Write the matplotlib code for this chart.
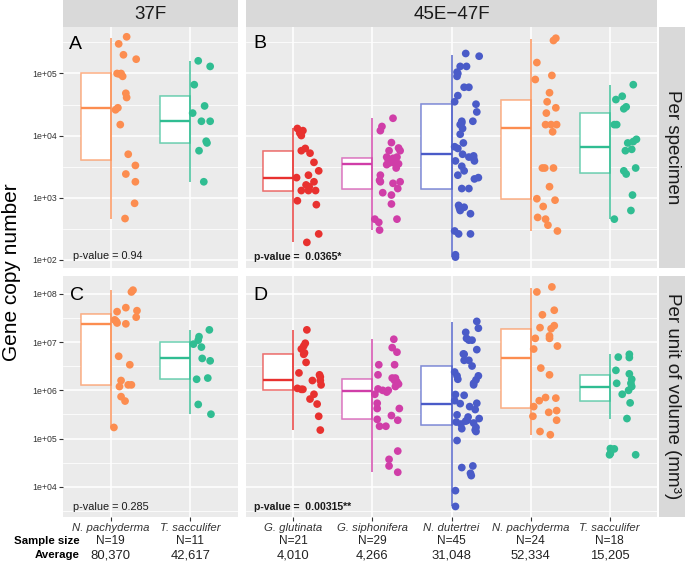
import matplotlib
matplotlib.use('Agg')
import matplotlib.pyplot as plt
import matplotlib.transforms as mtrans
from matplotlib.ticker import FixedLocator, NullFormatter
import matplotlib.colors as mcolors
import numpy as np

plt.rcParams['font.family'] = ['Liberation Sans', 'DejaVu Sans']

# ---------------- data ----------------
species_37F = ["N. pachyderma", "T. sacculifer"]
species_45E = ["G. glutinata", "G. siphonifera", "N. dutertrei", "N. pachyderma", "T. sacculifer"]
n_37F = ["N=19", "N=11"]
n_45E = ["N=21", "N=29", "N=45", "N=24", "N=18"]
avg_37F = ["80,370", "42,617"]
avg_45E = ["4,010", "4,266", "31,048", "52,334", "15,205"]
p_A, p_B, p_C, p_D = "p-value = 0.94", "p-value =  0.0365*", "p-value = 0.285", "p-value =  0.00315**"

col_gglut = '#E8312F'
col_gsiph = '#D03EA8'
col_ndut = '#4A5BC8'
col_npach = '#FC8D50'
col_tsacc = '#30BD92'
colors_37F = [col_npach, col_tsacc]
colors_45E = [col_gglut, col_gsiph, col_ndut, col_npach, col_tsacc]

# Panel A: 37F, per specimen
A_npach_vals = [3.9e5, 3.0e5, 2.0e5, 1.7e5, 1.0e5, 9.8e4, 9.0e4, 4.8e4, 4.1e4, 2.8e4, 2.6e4, 1.5e4,
                5.0e3, 3.3e3, 2.4e3, 1.8e3, 8.1e2, 4.6e2, 1.0e5]
A_npach_jit = [0.20, 0.10, 0.16, 0.32, 0.08, 0.11, 0.15, 0.19, 0.20, 0.09, 0.06, 0.12,
               0.22, 0.31, 0.19, 0.31, 0.30, 0.18, 0.13]
A_tsacc_vals = [1.6e5, 1.3e5, 6.6e4, 3.0e4, 2.3e4, 1.7e4, 1.7e4, 8.1e3, 7.6e3, 5.7e3, 1.8e3]
A_tsacc_jit = [0.10, 0.25, 0.05, 0.18, 0.03, 0.14, 0.25, 0.20, 0.21, 0.11, 0.17]
A_q1 = [4.1e3, 7.7e3]
A_med = [2.8e4, 1.7e4]
A_q3 = [1.0e5, 4.4e4]
A_lo = [4.6e2, 1.8e3]
A_hi = [3.8e5, 1.6e5]

# Panel B: 45E-47F, per specimen
B_gglut_vals = [1.3e4, 1.2e4, 1.0e4, 6.2e3, 5.7e3, 5.2e3, 3.7e3, 2.7e3, 2.1e3, 2.3e3, 1.8e3, 1.6e3,
                1.3e3, 1.3e3, 1.3e3, 8.9e2, 7.7e2, 2.6e2, 1.9e2, 1.5e3, 1.1e4]
B_gglut_jit = [0.05, 0.12, 0.10, 0.15, 0.10, 0.21, 0.26, 0.32, 0.04, 0.19, 0.26, 0.16,
               0.10, 0.19, 0.28, 0.05, 0.29, 0.32, 0.17, 0.20, 0.08]
B_gsiph_vals = [1.9e4, 1.4e4, 1.2e4, 7.7e3, 6.3e3, 5.7e3, 5.7e3, 4.5e3, 4.3e3, 4.5e3, 3.6e3, 3.6e3,
                3.5e3, 3.4e3, 2.3e3, 1.9e3, 1.8e3, 1.7e3, 1.8e3, 1.4e3, 1.2e3, 1.1e3, 7.9e2, 4.5e2,
                4.5e2, 4.0e2, 3.0e2, 4.0e3, 3.0e3]
B_gsiph_jit = [0.26, 0.12, 0.10, 0.24, 0.33, 0.21, 0.35, 0.18, 0.26, 0.31, 0.21, 0.28,
               0.33, 0.18, 0.10, 0.09, 0.10, 0.26, 0.35, 0.32, 0.13, 0.24, 0.24, 0.31,
               0.03, 0.08, 0.09, 0.20, 0.30]
B_ndut_vals = [2.1e5, 1.9e5, 1.3e5, 1.3e5, 1.05e5, 9.0e4, 6.0e4, 6.0e4, 4.4e4, 3.5e4, 3.2e4, 2.4e4,
               1.7e4, 1.7e4, 1.5e4, 1.3e4, 1.05e4, 7.6e3, 6.6e3, 6.2e3, 5.0e3, 4.5e3, 4.7e3, 3.9e3,
               3.9e3, 3.2e3, 2.7e3, 2.3e3, 2.0e3, 2.1e3, 1.4e3, 1.4e3, 7.5e2, 7.0e2, 6.2e2, 5.5e2,
               2.9e2, 2.6e2, 2.6e2, 1.2e2, 1.1e2, 1.6e4, 4.3e3, 6.8e2, 1.0e5]
B_ndut_jit = [0.18, 0.35, 0.11, 0.19, 0.07, 0.07, 0.16, 0.22, 0.08, 0.04, 0.31, 0.32,
              0.13, 0.27, 0.11, 0.14, 0.11, 0.15, 0.04, 0.08, 0.14, 0.22, 0.28, 0.29,
              0.05, 0.13, 0.16, 0.08, 0.29, 0.34, 0.13, 0.22, 0.09, 0.16, 0.11, 0.24,
              0.04, 0.09, 0.24, 0.05, 0.05, 0.13, 0.28, 0.10, 0.08]
B_npach_vals = [3.7e5, 3.4e5, 1.5e5, 8.0e4, 9.3e4, 4.9e4, 3.5e4, 2.8e4, 2.3e4, 1.5e4, 1.5e4, 1.5e4,
                1.15e4, 3.0e3, 3.0e3, 3.0e3, 1.5e3, 9.6e2, 9.1e2, 7.2e2, 4.8e2, 4.5e2, 3.6e2, 2.9e2]
B_npach_jit = [0.32, 0.29, 0.08, 0.06, 0.27, 0.24, 0.21, 0.32, 0.20, 0.19, 0.26, 0.33,
               0.28, 0.15, 0.18, 0.29, 0.24, 0.08, 0.31, 0.16, 0.09, 0.19, 0.22, 0.34]
B_tsacc_vals = [6.6e4, 4.3e4, 3.8e4, 2.9e4, 2.7e4, 1.5e4, 1.5e4, 8.7e3, 7.6e3, 5.7e3, 6.0e3, 3.0e3,
                2.7e3, 2.4e3, 1.1e3, 6.2e2, 4.5e2, 8.0e3]
B_tsacc_jit = [0.30, 0.16, 0.08, 0.21, 0.18, 0.06, 0.09, 0.34, 0.23, 0.20, 0.28, 0.33,
               0.18, 0.21, 0.29, 0.27, 0.06, 0.30]
B_q1 = [1.3e3, 1.4e3, 1.4e3, 9.5e2, 2.5e3]
B_med = [2.1e3, 3.5e3, 5.0e3, 1.3e4, 6.6e3]
B_q3 = [5.7e3, 4.4e3, 3.2e4, 3.8e4, 2.3e4]
B_lo = [1.9e2, 3.0e2, 1.1e2, 2.9e2, 4.5e2]
B_hi = [1.3e4, 1.9e4, 2.0e5, 3.6e5, 6.5e4]

# Panel C: 37F, per unit of volume
C_npach_vals = [1.2e8, 1.1e8, 5.2e7, 4.3e7, 4.5e7, 3.3e7, 2.9e7, 2.5e7, 2.4e7, 5.1e6, 3.4e6, 1.6e6,
                1.2e6, 1.3e6, 1.3e6, 7.4e5, 6.0e5, 1.7e5, 2.7e7]
C_npach_jit = [0.28, 0.26, 0.19, 0.08, 0.33, 0.32, 0.05, 0.08, 0.19, 0.10, 0.24, 0.13,
               0.11, 0.22, 0.26, 0.13, 0.18, 0.04, 0.07]
C_tsacc_vals = [1.8e7, 1.3e7, 1.1e7, 9.1e6, 7.9e6, 4.6e6, 4.1e6, 1.8e6, 1.7e6, 5.1e5, 3.2e5]
C_tsacc_jit = [0.24, 0.11, 0.10, 0.04, 0.14, 0.15, 0.25, 0.22, 0.08, 0.10, 0.26]
C_q1 = [1.3e6, 1.7e6]
C_med = [2.4e7, 4.7e6]
C_q3 = [3.8e7, 1.0e7]
C_lo = [1.7e5, 3.2e5]
C_hi = [1.2e8, 1.8e7]

# Panel D: 45E-47F, per unit of volume
D_gglut_vals = [1.8e7, 9.5e6, 8.3e6, 7.2e6, 5.6e6, 3.8e6, 2.3e6, 2.1e6, 1.6e6, 1.6e6, 1.1e6, 1.05e6,
                1.05e6, 8.3e5, 6.6e5, 5.2e5, 2.9e5, 1.5e5, 1.9e6, 1.3e6, 6.0e6]
D_gglut_jit = [0.17, 0.15, 0.13, 0.10, 0.13, 0.16, 0.07, 0.33, 0.34, 0.24, 0.05, 0.10,
               0.12, 0.26, 0.21, 0.30, 0.32, 0.34, 0.34, 0.35, 0.14]
D_gsiph_vals = [1.15e7, 7.7e6, 6.2e6, 3.4e6, 3.4e6, 2.1e6, 1.8e6, 1.8e6, 1.5e6, 1.2e6, 1.35e6, 1.07e6,
                1.0e6, 9.2e5, 8.3e5, 5.4e5, 4.2e5, 4.2e5, 3.0e5, 2.5e5, 2.4e5, 1.8e5, 1.8e5, 5.5e4,
                3.7e4, 2.7e4, 2.0e4, 1.0e6, 1.6e6]
D_gsiph_jit = [0.27, 0.25, 0.31, 0.08, 0.28, 0.07, 0.25, 0.29, 0.31, 0.29, 0.33, 0.07,
               0.13, 0.18, 0.03, 0.06, 0.06, 0.34, 0.24, 0.06, 0.32, 0.09, 0.17, 0.32,
               0.21, 0.21, 0.32, 0.20, 0.28]
D_ndut_vals = [2.7e7, 1.95e7, 1.6e7, 1.2e7, 1.1e7, 1.1e7, 7.0e6, 5.7e6, 4.2e6, 4.2e6, 3.2e6, 2.0e6,
               1.7e6, 2.0e6, 1.65e6, 1.4e6, 8.2e5, 7.9e5, 6.1e5, 5.3e5, 5.4e5, 4.6e5, 3.1e5, 2.8e5,
               2.6e5, 2.2e5, 2.0e5, 2.4e5, 2.1e5, 1.7e5, 1.4e5, 1.6e5, 9.1e4, 2.5e4, 2.7e4, 1.9e4,
               1.7e4, 8.3e3, 3.9e3, 1.3e6, 4.0e5, 2.3e5, 1.5e5, 2.4e6, 5.6e6]
D_ndut_jit = [0.32, 0.34, 0.18, 0.19, 0.26, 0.22, 0.32, 0.15, 0.16, 0.22, 0.26, 0.07,
              0.08, 0.34, 0.31, 0.28, 0.05, 0.16, 0.04, 0.11, 0.32, 0.23, 0.07, 0.21,
              0.35, 0.06, 0.12, 0.20, 0.28, 0.31, 0.31, 0.13, 0.07, 0.13, 0.27, 0.24,
              0.25, 0.05, 0.05, 0.28, 0.30, 0.18, 0.30, 0.04, 0.16]
D_npach_vals = [1.1e8, 1.4e8, 4.6e7, 3.7e7, 2.2e7, 1.9e7, 2.0e7, 1.35e7, 1.2e7, 1.2e7, 8.3e6, 7.2e6,
                2.9e6, 2.1e6, 7.1e5, 6.1e5, 6.9e5, 4.6e5, 3.5e5, 3.8e5, 2.9e5, 2.4e5, 1.4e5, 1.2e5]
D_npach_jit = [0.08, 0.27, 0.30, 0.15, 0.30, 0.26, 0.12, 0.24, 0.24, 0.06, 0.34, 0.04,
               0.13, 0.24, 0.19, 0.11, 0.32, 0.04, 0.23, 0.33, 0.03, 0.33, 0.12, 0.25]
D_tsacc_vals = [5.6e6, 4.8e6, 4.9e6, 2.6e6, 2.2e6, 1.7e6, 1.4e6, 1.4e6, 1.2e6, 1.0e6, 8.3e5, 5.5e5,
                2.6e5, 6.2e4, 6.1e4, 4.6e4, 4.9e4, 4.6e4]
D_tsacc_jit = [0.25, 0.25, 0.11, 0.08, 0.25, 0.28, 0.09, 0.27, 0.28, 0.24, 0.16, 0.26,
               0.22, 0.01, 0.06, 0.00, 0.01, 0.33]
D_q1 = [1.0e6, 2.6e5, 1.9e5, 4.4e5, 6.1e5]
D_med = [1.65e6, 9.5e5, 5.3e5, 4.6e6, 1.2e6]
D_q3 = [5.6e6, 1.7e6, 3.2e6, 1.9e7, 2.1e6]
D_lo = [1.5e5, 2.0e4, 3.9e3, 1.2e5, 2.6e5]
D_hi = [1.8e7, 1.15e7, 2.6e7, 1.35e8, 5.6e6]

ylim_top = (10 ** 1.866, 10 ** 5.749)
ylim_bot = (10 ** 3.372, 10 ** 8.373)
ticks_top = [2, 3, 4, 5]
ticks_bot = [4, 5, 6, 7, 8]

# ---------------- layout ----------------
W, H = 685, 563
fig = plt.figure(figsize=(W / 100, H / 100), dpi=100)


def px_axes(x0, y0, x1, y1):
    return fig.add_axes([x0 / W, 1 - y1 / H, (x1 - x0) / W, (y1 - y0) / H])


def fy(y):
    return 1 - y / H


LX0, LX1 = 63, 238
RX0, RX1 = 246, 657
TY0, TY1 = 27, 268
BY0, BY1 = 276, 517


def draw_panel(ax, vals, jits, colors, q1, med, q3, lo, hi, ylim, decades, left_labels, bottom_ticks):
    n = len(vals)
    pos = np.arange(1, n + 1)
    ax.set_facecolor('#EBEBEB')
    ax.set_yscale('log')
    ax.set_xlim(0.4, n + 0.6)
    ax.set_ylim(*ylim)
    ax.yaxis.set_major_locator(FixedLocator([10.0 ** k for k in decades]))
    minors = [10.0 ** (k + 0.5) for k in range(decades[0] - 1, decades[-1] + 1)]
    ax.yaxis.set_minor_locator(FixedLocator(minors))
    ax.yaxis.set_minor_formatter(NullFormatter())
    ax.set_yticklabels([f"1e+{k:02d}" for k in decades])
    ax.set_xticks(pos)
    ax.set_xticklabels([])
    ax.grid(True, which='major', color='white', linewidth=1.1)
    ax.grid(True, which='minor', axis='y', color='white', linewidth=0.55)
    ax.set_axisbelow(True)
    for s in ax.spines.values():
        s.set_visible(False)
    ax.tick_params(axis='y', which='minor', length=0)
    ax.tick_params(axis='y', which='major', length=3, width=0.8, color='#333333',
                   labelsize=6.3, labelcolor='#333333', pad=1.5,
                   left=left_labels, labelleft=left_labels)
    ax.tick_params(axis='x', which='both', length=3 if bottom_ticks else 0, width=0.8,
                   color='#333333', bottom=bottom_ticks)

    stats = [dict(med=med[i], q1=q1[i], q3=q3[i], whislo=q1[i], whishi=q3[i], fliers=[])
             for i in range(n)]
    bp = ax.bxp(stats, positions=pos - 0.19, widths=0.38, showcaps=False, showfliers=False,
                patch_artist=True, manage_ticks=False, zorder=2)
    for i, b in enumerate(bp['boxes']):
        b.set_facecolor('white')
        b.set_edgecolor(mcolors.to_rgba(colors[i], 0.7))
        b.set_linewidth(1.1)
    for i, m in enumerate(bp['medians']):
        m.set_color(colors[i])
        m.set_linewidth(1.7)
        m.set_solid_capstyle('butt')
    for w in bp['whiskers']:
        w.set_visible(False)
    for i in range(n):
        ax.vlines(pos[i], lo[i], hi[i], colors=[mcolors.to_rgba(colors[i], 0.85)],
                  linewidth=1.2, zorder=2.5)
        ax.scatter(pos[i] + np.array(jits[i]), vals[i], s=31, color=colors[i],
                   edgecolors='none', zorder=3)
    return pos


axA = px_axes(LX0, TY0, LX1, TY1)
axB = px_axes(RX0, TY0, RX1, TY1)
axC = px_axes(LX0, BY0, LX1, BY1)
axD = px_axes(RX0, BY0, RX1, BY1)

draw_panel(axA, [A_npach_vals, A_tsacc_vals], [A_npach_jit, A_tsacc_jit], colors_37F,
           A_q1, A_med, A_q3, A_lo, A_hi, ylim_top, ticks_top, True, False)
draw_panel(axB, [B_gglut_vals, B_gsiph_vals, B_ndut_vals, B_npach_vals, B_tsacc_vals],
           [B_gglut_jit, B_gsiph_jit, B_ndut_jit, B_npach_jit, B_tsacc_jit], colors_45E,
           B_q1, B_med, B_q3, B_lo, B_hi, ylim_top, ticks_top, False, False)
posC = draw_panel(axC, [C_npach_vals, C_tsacc_vals], [C_npach_jit, C_tsacc_jit], colors_37F,
                  C_q1, C_med, C_q3, C_lo, C_hi, ylim_bot, ticks_bot, True, True)
posD = draw_panel(axD, [D_gglut_vals, D_gsiph_vals, D_ndut_vals, D_npach_vals, D_tsacc_vals],
                  [D_gglut_jit, D_gsiph_jit, D_ndut_jit, D_npach_jit, D_tsacc_jit], colors_45E,
                  D_q1, D_med, D_q3, D_lo, D_hi, ylim_bot, ticks_bot, False, True)

# panel letters
fig.text(69 / W, fy(48.8), "A", fontsize=14, color='black', va='baseline', ha='left')
fig.text(253 / W, fy(48.3), "B", fontsize=14, color='black', va='baseline', ha='left')
fig.text(70 / W, fy(300), "C", fontsize=14, color='black', va='baseline', ha='left')
fig.text(253 / W, fy(299.5), "D", fontsize=14, color='black', va='baseline', ha='left')

# p-values
fig.text(72.7 / W, fy(259), p_A, fontsize=7.8, color='#1a1a1a', va='baseline', ha='left')
fig.text(254 / W, fy(260), p_B, fontsize=7.6, color='#1a1a1a', va='baseline', ha='left', fontweight='bold')
fig.text(72.7 / W, fy(509.5), p_C, fontsize=7.8, color='#1a1a1a', va='baseline', ha='left')
fig.text(254 / W, fy(510), p_D, fontsize=7.6, color='#1a1a1a', va='baseline', ha='left', fontweight='bold')

# strips
for (x0, x1, label) in [(LX0, LX1, "37F"), (RX0, RX1, "45E\u221247F")]:
    s = px_axes(x0, 0, x1, 26.5)
    s.set_facecolor('#D9D9D9')
    s.set_xticks([]); s.set_yticks([])
    for sp in s.spines.values():
        sp.set_visible(False)
    s.text(0.5, 0.47, label, transform=s.transAxes, ha='center', va='center',
           fontsize=13.5, color='#1A1A1A')
for (y0, y1, label) in [(TY0, TY1, "Per specimen"), (BY0, BY1, "Per unit of volume (mm\u00b3)")]:
    s = px_axes(659, y0, 685, y1)
    s.set_facecolor('#D9D9D9')
    s.set_xticks([]); s.set_yticks([])
    for sp in s.spines.values():
        sp.set_visible(False)
    s.text(0.5, 0.5, label, transform=s.transAxes, ha='center', va='center',
           fontsize=13.5, color='#1A1A1A', rotation=-90)

# y label
fig.text(12 / W, fy(272), "Gene copy number", rotation=90, fontsize=15, va='center', ha='center',
         color='black')

# bottom annotations
for ax, pos, sp, nn, av in [(axC, posC, species_37F, n_37F, avg_37F),
                            (axD, posD, species_45E, n_45E, avg_45E)]:
    tr = mtrans.blended_transform_factory(ax.transData, fig.transFigure)
    for i in range(len(sp)):
        ax.text(pos[i], fy(528), sp[i], transform=tr, ha='center', va='center',
                fontsize=8.2, style='italic', color='#333333')
        ax.text(pos[i], fy(541.5), nn[i], transform=tr, ha='center', va='center',
                fontsize=8.6, color='#222222')
        ax.text(pos[i], fy(555.5), av[i], transform=tr, ha='center', va='center',
                fontsize=9.4, color='#222222')

fig.text(80 / W, fy(541.5), "Sample size", fontsize=8.2, fontweight='bold', ha='right', va='center',
         color='black')
fig.text(80 / W, fy(555.5), "Average", fontsize=8.2, fontweight='bold', ha='right', va='center',
         color='black')

fig.savefig('out.png', dpi=100)
